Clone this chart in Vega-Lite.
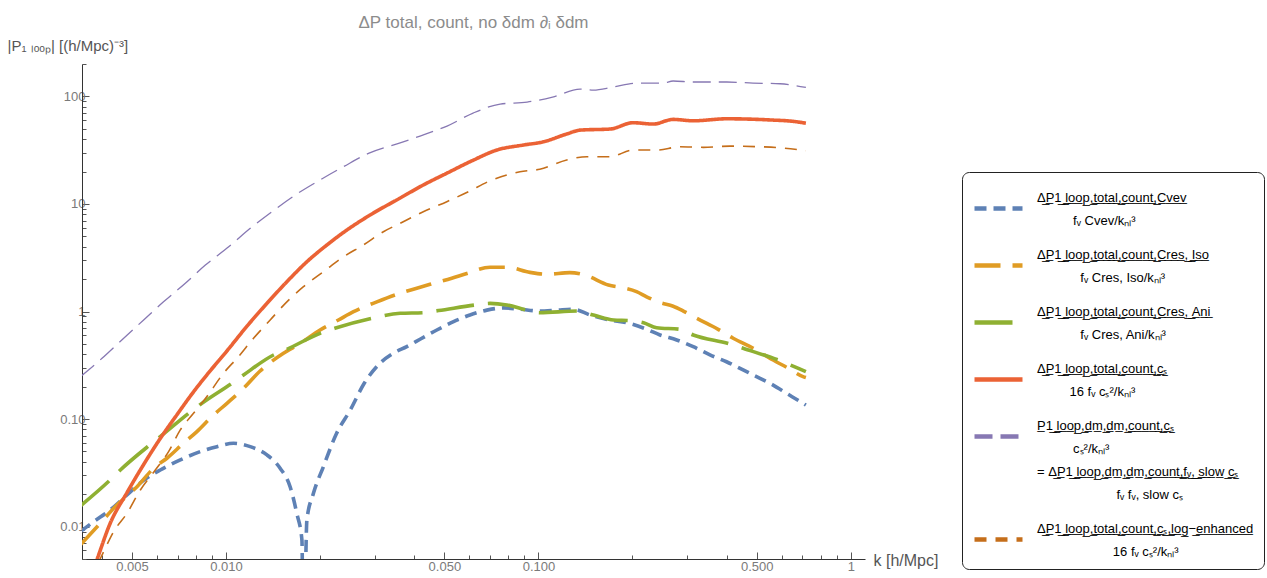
{
  "$schema": "https://vega.github.io/schema/vega-lite/v6.json",
  "width": 783,
  "height": 495,
  "autosize": {"type": "none"},
  "padding": {"left": 82, "top": 64, "right": 402, "bottom": 19},
  "background": "white",
  "config": {"view": {"stroke": null}, "font": "Liberation Sans", "style": {"guide-label": {"lineHeight": 23, "dy": -11}}},
  "title": {"text": "ΔP total, count, no δdm ∂ᵢ δdm", "font": "Liberation Sans", "fontSize": 17, "fontWeight": "normal", "color": "#8c8c8c", "anchor": "middle", "offset": 6},
  "data": {"values": [
    {"s":"Cvev","k":0.00342,"v":0.0090},{"s":"Cvev","k":0.00377,"v":0.0111},{"s":"Cvev","k":0.00426,"v":0.0143},{"s":"Cvev","k":0.00482,"v":0.0197},{"s":"Cvev","k":0.00538,"v":0.0262},{"s":"Cvev","k":0.00616,"v":0.0336},{"s":"Cvev","k":0.00714,"v":0.0417},{"s":"Cvev","k":0.00827,"v":0.0498},{"s":"Cvev","k":0.00935,"v":0.0554},{"s":"Cvev","k":0.01057,"v":0.0596},{"s":"Cvev","k":0.01196,"v":0.0554},{"s":"Cvev","k":0.01352,"v":0.0464},{"s":"Cvev","k":0.0149,"v":0.0349},{"s":"Cvev","k":0.01603,"v":0.0236},{"s":"Cvev","k":0.01685,"v":0.0133},{"s":"Cvev","k":0.0175,"v":0.0075},{"s":"Cvev","k":0.0177,"v":0.0005},{"s":"Cvev","k":0.01815,"v":0.0115},{"s":"Cvev","k":0.01905,"v":0.0204},{"s":"Cvev","k":0.0205,"v":0.0361},{"s":"Cvev","k":0.0226,"v":0.0738},{"s":"Cvev","k":0.025,"v":0.1215},{"s":"Cvev","k":0.0277,"v":0.215},{"s":"Cvev","k":0.0311,"v":0.33},{"s":"Cvev","k":0.0343,"v":0.409},{"s":"Cvev","k":0.0379,"v":0.471},{"s":"Cvev","k":0.0418,"v":0.552},{"s":"Cvev","k":0.0473,"v":0.673},{"s":"Cvev","k":0.0535,"v":0.804},{"s":"Cvev","k":0.0604,"v":0.928},{"s":"Cvev","k":0.0684,"v":1.03},{"s":"Cvev","k":0.0773,"v":1.08},{"s":"Cvev","k":0.0873,"v":1.05},{"s":"Cvev","k":0.101,"v":1.01},{"s":"Cvev","k":0.1145,"v":1.03},{"s":"Cvev","k":0.1294,"v":1.05},{"s":"Cvev","k":0.1463,"v":0.928},{"s":"Cvev","k":0.1695,"v":0.834},{"s":"Cvev","k":0.1916,"v":0.787},{"s":"Cvev","k":0.222,"v":0.684},{"s":"Cvev","k":0.245,"v":0.605},{"s":"Cvev","k":0.277,"v":0.544},{"s":"Cvev","k":0.313,"v":0.471},{"s":"Cvev","k":0.354,"v":0.395},{"s":"Cvev","k":0.4,"v":0.341},{"s":"Cvev","k":0.452,"v":0.286},{"s":"Cvev","k":0.512,"v":0.239},{"s":"Cvev","k":0.564,"v":0.207},{"s":"Cvev","k":0.622,"v":0.174},{"s":"Cvev","k":0.703,"v":0.14},{"s":"Cvev","k":0.718,"v":0.135},
    {"s":"CresIso","k":0.00342,"v":0.00676},{"s":"CresIso","k":0.00396,"v":0.01075},{"s":"CresIso","k":0.00442,"v":0.01534},{"s":"CresIso","k":0.00513,"v":0.0227},{"s":"CresIso","k":0.00594,"v":0.0361},{"s":"CresIso","k":0.00647,"v":0.0432},{"s":"CresIso","k":0.00731,"v":0.0596},{"s":"CresIso","k":0.00807,"v":0.0764},{"s":"CresIso","k":0.00912,"v":0.109},{"s":"CresIso","k":0.01007,"v":0.14},{"s":"CresIso","k":0.01138,"v":0.193},{"s":"CresIso","k":0.01286,"v":0.28},{"s":"CresIso","k":0.01527,"v":0.409},{"s":"CresIso","k":0.0173,"v":0.506},{"s":"CresIso","k":0.02,"v":0.673},{"s":"CresIso","k":0.0229,"v":0.834},{"s":"CresIso","k":0.0256,"v":0.996},{"s":"CresIso","k":0.0304,"v":1.23},{"s":"CresIso","k":0.0361,"v":1.48},{"s":"CresIso","k":0.0398,"v":1.61},{"s":"CresIso","k":0.045,"v":1.79},{"s":"CresIso","k":0.0528,"v":2.04},{"s":"CresIso","k":0.059,"v":2.26},{"s":"CresIso","k":0.07,"v":2.58},{"s":"CresIso","k":0.0792,"v":2.58},{"s":"CresIso","k":0.094,"v":2.31},{"s":"CresIso","k":0.1064,"v":2.22},{"s":"CresIso","k":0.126,"v":2.3},{"s":"CresIso","k":0.141,"v":2.18},{"s":"CresIso","k":0.1675,"v":1.76},{"s":"CresIso","k":0.187,"v":1.66},{"s":"CresIso","k":0.206,"v":1.53},{"s":"CresIso","k":0.222,"v":1.37},{"s":"CresIso","k":0.245,"v":1.21},{"s":"CresIso","k":0.27,"v":1.12},{"s":"CresIso","k":0.291,"v":1.01},{"s":"CresIso","k":0.321,"v":0.865},{"s":"CresIso","k":0.376,"v":0.683},{"s":"CresIso","k":0.42,"v":0.564},{"s":"CresIso","k":0.487,"v":0.455},{"s":"CresIso","k":0.564,"v":0.354},{"s":"CresIso","k":0.63,"v":0.297},{"s":"CresIso","k":0.703,"v":0.248},{"s":"CresIso","k":0.718,"v":0.243},
    {"s":"CresAni","k":0.00342,"v":0.01557},{"s":"CresAni","k":0.00426,"v":0.0272},{"s":"CresAni","k":0.00459,"v":0.0336},{"s":"CresAni","k":0.00565,"v":0.0562},{"s":"CresAni","k":0.00616,"v":0.0686},{"s":"CresAni","k":0.00759,"v":0.113},{"s":"CresAni","k":0.00837,"v":0.14},{"s":"CresAni","k":0.01044,"v":0.215},{"s":"CresAni","k":0.01138,"v":0.257},{"s":"CresAni","k":0.01419,"v":0.394},{"s":"CresAni","k":0.01566,"v":0.445},{"s":"CresAni","k":0.02,"v":0.627},{"s":"CresAni","k":0.0223,"v":0.698},{"s":"CresAni","k":0.0293,"v":0.865},{"s":"CresAni","k":0.0361,"v":0.962},{"s":"CresAni","k":0.0428,"v":0.975},{"s":"CresAni","k":0.0479,"v":1.02},{"s":"CresAni","k":0.0627,"v":1.15},{"s":"CresAni","k":0.07,"v":1.19},{"s":"CresAni","k":0.0792,"v":1.15},{"s":"CresAni","k":0.0918,"v":1.03},{"s":"CresAni","k":0.101,"v":0.975},{"s":"CresAni","k":0.1327,"v":1.01},{"s":"CresAni","k":0.15,"v":0.927},{"s":"CresAni","k":0.174,"v":0.834},{"s":"CresAni","k":0.196,"v":0.821},{"s":"CresAni","k":0.217,"v":0.787},{"s":"CresAni","k":0.239,"v":0.707},{"s":"CresAni","k":0.284,"v":0.683},{"s":"CresAni","k":0.313,"v":0.605},{"s":"CresAni","k":0.41,"v":0.499},{"s":"CresAni","k":0.452,"v":0.455},{"s":"CresAni","k":0.593,"v":0.349},{"s":"CresAni","k":0.653,"v":0.311},{"s":"CresAni","k":0.718,"v":0.276},
    {"s":"cs","k":0.0037,"v":0.0035},{"s":"cs","k":0.00386,"v":0.0049},{"s":"cs","k":0.00426,"v":0.01075},{"s":"cs","k":0.00482,"v":0.0207},{"s":"cs","k":0.00545,"v":0.0378},{"s":"cs","k":0.00616,"v":0.066},{"s":"cs","k":0.00697,"v":0.11},{"s":"cs","k":0.00787,"v":0.179},{"s":"cs","k":0.00869,"v":0.258},{"s":"cs","k":0.01007,"v":0.43},{"s":"cs","k":0.01167,"v":0.73},{"s":"cs","k":0.01352,"v":1.19},{"s":"cs","k":0.01566,"v":1.89},{"s":"cs","k":0.01815,"v":2.9},{"s":"cs","k":0.02103,"v":4.15},{"s":"cs","k":0.02437,"v":5.72},{"s":"cs","k":0.0289,"v":7.88},{"s":"cs","k":0.036,"v":11.3},{"s":"cs","k":0.0428,"v":15.0},{"s":"cs","k":0.0509,"v":19.3},{"s":"cs","k":0.062,"v":25.6},{"s":"cs","k":0.0736,"v":31.7},{"s":"cs","k":0.0895,"v":35.3},{"s":"cs","k":0.1037,"v":37.8},{"s":"cs","k":0.1232,"v":44.7},{"s":"cs","k":0.136,"v":48.6},{"s":"cs","k":0.1695,"v":49.7},{"s":"cs","k":0.201,"v":56.9},{"s":"cs","k":0.233,"v":55.3},{"s":"cs","k":0.27,"v":61.1},{"s":"cs","k":0.313,"v":59.3},{"s":"cs","k":0.4,"v":61.9},{"s":"cs","k":0.564,"v":60.2},{"s":"cs","k":0.654,"v":58.6},{"s":"cs","k":0.718,"v":56.3},
    {"s":"dm","k":0.00342,"v":0.248},{"s":"dm","k":0.00401,"v":0.367},{"s":"dm","k":0.00464,"v":0.544},{"s":"dm","k":0.00545,"v":0.834},{"s":"dm","k":0.00631,"v":1.23},{"s":"dm","k":0.00741,"v":1.83},{"s":"dm","k":0.00859,"v":2.7},{"s":"dm","k":0.0102,"v":4.0},{"s":"dm","k":0.01196,"v":5.93},{"s":"dm","k":0.01403,"v":8.47},{"s":"dm","k":0.01666,"v":12.1},{"s":"dm","k":0.01978,"v":16.4},{"s":"dm","k":0.02377,"v":22.2},{"s":"dm","k":0.02857,"v":29.5},{"s":"dm","k":0.0361,"v":37.0},{"s":"dm","k":0.0418,"v":42.8},{"s":"dm","k":0.051,"v":53},{"s":"dm","k":0.0618,"v":70},{"s":"dm","k":0.0754,"v":84.8},{"s":"dm","k":0.092,"v":88.5},{"s":"dm","k":0.111,"v":98.6},{"s":"dm","k":0.136,"v":117},{"s":"dm","k":0.15,"v":114.5},{"s":"dm","k":0.173,"v":122},{"s":"dm","k":0.207,"v":133},{"s":"dm","k":0.25,"v":133},{"s":"dm","k":0.27,"v":139},{"s":"dm","k":0.313,"v":136},{"s":"dm","k":0.401,"v":136},{"s":"dm","k":0.486,"v":133},{"s":"dm","k":0.593,"v":131},{"s":"dm","k":0.718,"v":121},
    {"s":"logenh","k":0.0039,"v":0.0046},{"s":"logenh","k":0.00406,"v":0.00586},{"s":"logenh","k":0.00437,"v":0.00899},{"s":"logenh","k":0.00482,"v":0.0133},{"s":"logenh","k":0.00532,"v":0.0219},{"s":"logenh","k":0.00594,"v":0.0336},{"s":"logenh","k":0.00655,"v":0.0498},{"s":"logenh","k":0.00714,"v":0.0793},{"s":"logenh","k":0.00787,"v":0.113},{"s":"logenh","k":0.00869,"v":0.162},{"s":"logenh","k":0.00982,"v":0.267},{"s":"logenh","k":0.01096,"v":0.38},{"s":"logenh","k":0.01225,"v":0.564},{"s":"logenh","k":0.01385,"v":0.834},{"s":"logenh","k":0.01566,"v":1.23},{"s":"logenh","k":0.0177,"v":1.7},{"s":"logenh","k":0.0205,"v":2.34},{"s":"logenh","k":0.0238,"v":3.23},{"s":"logenh","k":0.0275,"v":4.15},{"s":"logenh","k":0.0319,"v":5.52},{"s":"logenh","k":0.0361,"v":6.6},{"s":"logenh","k":0.0428,"v":8.47},{"s":"logenh","k":0.0509,"v":10.5},{"s":"logenh","k":0.0597,"v":13.0},{"s":"logenh","k":0.07,"v":16.4},{"s":"logenh","k":0.0873,"v":19.9},{"s":"logenh","k":0.101,"v":21.0},{"s":"logenh","k":0.1232,"v":25.6},{"s":"logenh","k":0.143,"v":27.5},{"s":"logenh","k":0.1695,"v":27.5},{"s":"logenh","k":0.201,"v":31.7},{"s":"logenh","k":0.239,"v":31.7},{"s":"logenh","k":0.284,"v":34.0},{"s":"logenh","k":0.337,"v":33.6},{"s":"logenh","k":0.41,"v":34.5},{"s":"logenh","k":0.512,"v":34.0},{"s":"logenh","k":0.593,"v":33.3},{"s":"logenh","k":0.718,"v":31.2}
  ]},
  "mark": {"type": "line", "clip": true, "interpolate": "monotone"},
  "encoding": {
    "x": {"field": "k", "type": "quantitative",
      "scale": {"type": "log", "domain": [0.00346, 1.11], "nice": false},
      "axis": {
        "values": [0.004,0.005,0.006,0.007,0.008,0.009,0.01,0.02,0.03,0.04,0.05,0.06,0.07,0.08,0.09,0.1,0.2,0.3,0.4,0.5,0.6,0.7,0.8,0.9,1],
        "labelExpr": "(abs(datum.value/pow(10,floor(log(datum.value)/LN10+1e-6))-1)<0.01 || abs(datum.value/pow(10,floor(log(datum.value)/LN10+1e-6))-5)<0.01) ? (datum.value>=1 ? '1' : format(datum.value,'.3f')) : ''",
        "tickSize": {"condition": {"test": "abs(datum.value/pow(10,floor(log(datum.value)/LN10+1e-6))-1)<0.01 || abs(datum.value/pow(10,floor(log(datum.value)/LN10+1e-6))-5)<0.01", "value": -7}, "value": -4},
        "grid": false, "labelFlush": false, "labelOverlap": false, "labelBound": false,
        "labelFont": "Liberation Sans", "labelFontSize": 13, "labelColor": "#7a7a7a", "labelPadding": 19,
        "tickColor": "#555555", "domainColor": "#333333",
        "title": "k [h/Mpc]", "titleX": 791, "titleY": 6, "titleAlign": "left", "titleBaseline": "alphabetic",
        "titleFont": "Liberation Sans", "titleFontSize": 16, "titleFontWeight": "normal", "titleColor": "#555555"
      }},
    "y": {"field": "v", "type": "quantitative",
      "scale": {"type": "log", "domain": [0.005, 200], "nice": false},
      "axis": {
        "values": [0.005,0.006,0.007,0.008,0.009,0.01,0.02,0.03,0.04,0.05,0.06,0.07,0.08,0.09,0.1,0.2,0.3,0.4,0.5,0.6,0.7,0.8,0.9,1,2,3,4,5,6,7,8,9,10,20,30,40,50,60,70,80,90,100,200],
        "labelExpr": "abs(datum.value/pow(10,floor(log(datum.value)/LN10+1e-6))-1)<0.01 ? (datum.value<1 ? format(datum.value,'.2f') : format(datum.value,'d')) : ''",
        "tickSize": {"condition": {"test": "abs(datum.value/pow(10,floor(log(datum.value)/LN10+1e-6))-1)<0.01", "value": -7}, "value": -4},
        "grid": false, "labelFlush": false, "labelOverlap": false, "labelBound": false, "labelOffset": 11,
        "labelFont": "Liberation Sans", "labelFontSize": 13, "labelColor": "#7a7a7a", "labelPadding": 4,
        "tickColor": "#555555", "domainColor": "#333333",
        "title": "|P₁ ₗₒₒₚ| [(h/Mpc)⁻³]", "titleAngle": 0, "titleX": -75, "titleY": -14, "titleAlign": "left", "titleBaseline": "alphabetic",
        "titleFont": "Liberation Sans", "titleFontSize": 15, "titleFontWeight": "normal", "titleColor": "#555555"
      }},
    "color": {"field": "s", "type": "nominal",
      "scale": {"domain": ["Cvev","CresIso","CresAni","cs","dm","logenh"], "range": ["#5E81B5","#E09C24","#8FB032","#EB6235","#8778B3","#C56E1A"]},
      "legend": {
        "orient": "none", "legendX": 880, "legendY": 108, "title": null,
        "symbolType": "stroke", "symbolSize": 2304, "symbolStrokeWidth": 4.5, "labelOffset": 12, "rowPadding": 11, "padding": 10,
        "strokeColor": "#222222", "cornerRadius": 7, "fillColor": "white",
        "labelFont": "Liberation Sans", "labelFontSize": 13, "labelColor": "black", "labelLimit": 400,
        "labelExpr": "datum.value=='Cvev' ? [replace('ΔP1 loop,total,count,Cvev', regexp('.','g'), '$&\u0332'), '\u200b\u00a0\u00a0\u00a0\u00a0\u00a0\u00a0\u00a0\u00a0\u00a0\u00a0fᵥ Cvev/kₙₗ³'] : datum.value=='CresIso' ? [replace('ΔP1 loop,total,count,Cres, Iso', regexp('.','g'), '$&\u0332'), '\u200b\u00a0\u00a0\u00a0\u00a0\u00a0\u00a0\u00a0\u00a0\u00a0\u00a0\u00a0\u00a0fᵥ Cres, Iso/kₙₗ³'] : datum.value=='CresAni' ? [replace('ΔP1 loop,total,count,Cres, Ani', regexp('.','g'), '$&\u0332'), '\u200b\u00a0\u00a0\u00a0\u00a0\u00a0\u00a0\u00a0\u00a0\u00a0\u00a0\u00a0\u00a0fᵥ Cres, Ani/kₙₗ³'] : datum.value=='cs' ? [replace('ΔP1 loop,total,count,cₛ', regexp('.','g'), '$&\u0332'), '\u200b\u00a0\u00a0\u00a0\u00a0\u00a0\u00a0\u00a0\u00a0\u00a016 fᵥ cₛ²/kₙₗ³'] : datum.value=='dm' ? [replace('P1 loop,dm,dm,count,cₛ', regexp('.','g'), '$&\u0332'), '\u200b\u00a0\u00a0\u00a0\u00a0\u00a0\u00a0\u00a0\u00a0\u00a0\u00a0cₛ²/kₙₗ³', '= ' + replace('ΔP1 loop,dm,dm,count,fᵥ, slow cₛ', regexp('.','g'), '$&\u0332'), '\u200b\u00a0\u00a0\u00a0\u00a0\u00a0\u00a0\u00a0\u00a0\u00a0\u00a0\u00a0\u00a0\u00a0\u00a0\u00a0\u00a0\u00a0\u00a0\u00a0\u00a0\u00a0\u00a0fᵥ fᵥ, slow cₛ'] : [replace('ΔP1 loop,total,count,cₛ,log−enhanced', regexp('.','g'), '$&\u0332'), '\u200b\u00a0\u00a0\u00a0\u00a0\u00a0\u00a0\u00a0\u00a0\u00a0\u00a0\u00a0\u00a0\u00a0\u00a0\u00a0\u00a0\u00a0\u00a0\u00a0\u00a0\u00a016 fᵥ cₛ²/kₙₗ³']"
      }},
    "strokeDash": {"field": "s", "type": "nominal",
      "scale": {"domain": ["Cvev","CresIso","CresAni","cs","dm","logenh"], "range": [[12,7],[26,12],[38,14],[1,0],[18,8],[12,9]]}},
    "strokeWidth": {"condition": [{"test": "datum.s=='dm'", "value": 1.3}, {"test": "datum.s=='logenh'", "value": 1.6}], "value": 3.6}
  }
}
